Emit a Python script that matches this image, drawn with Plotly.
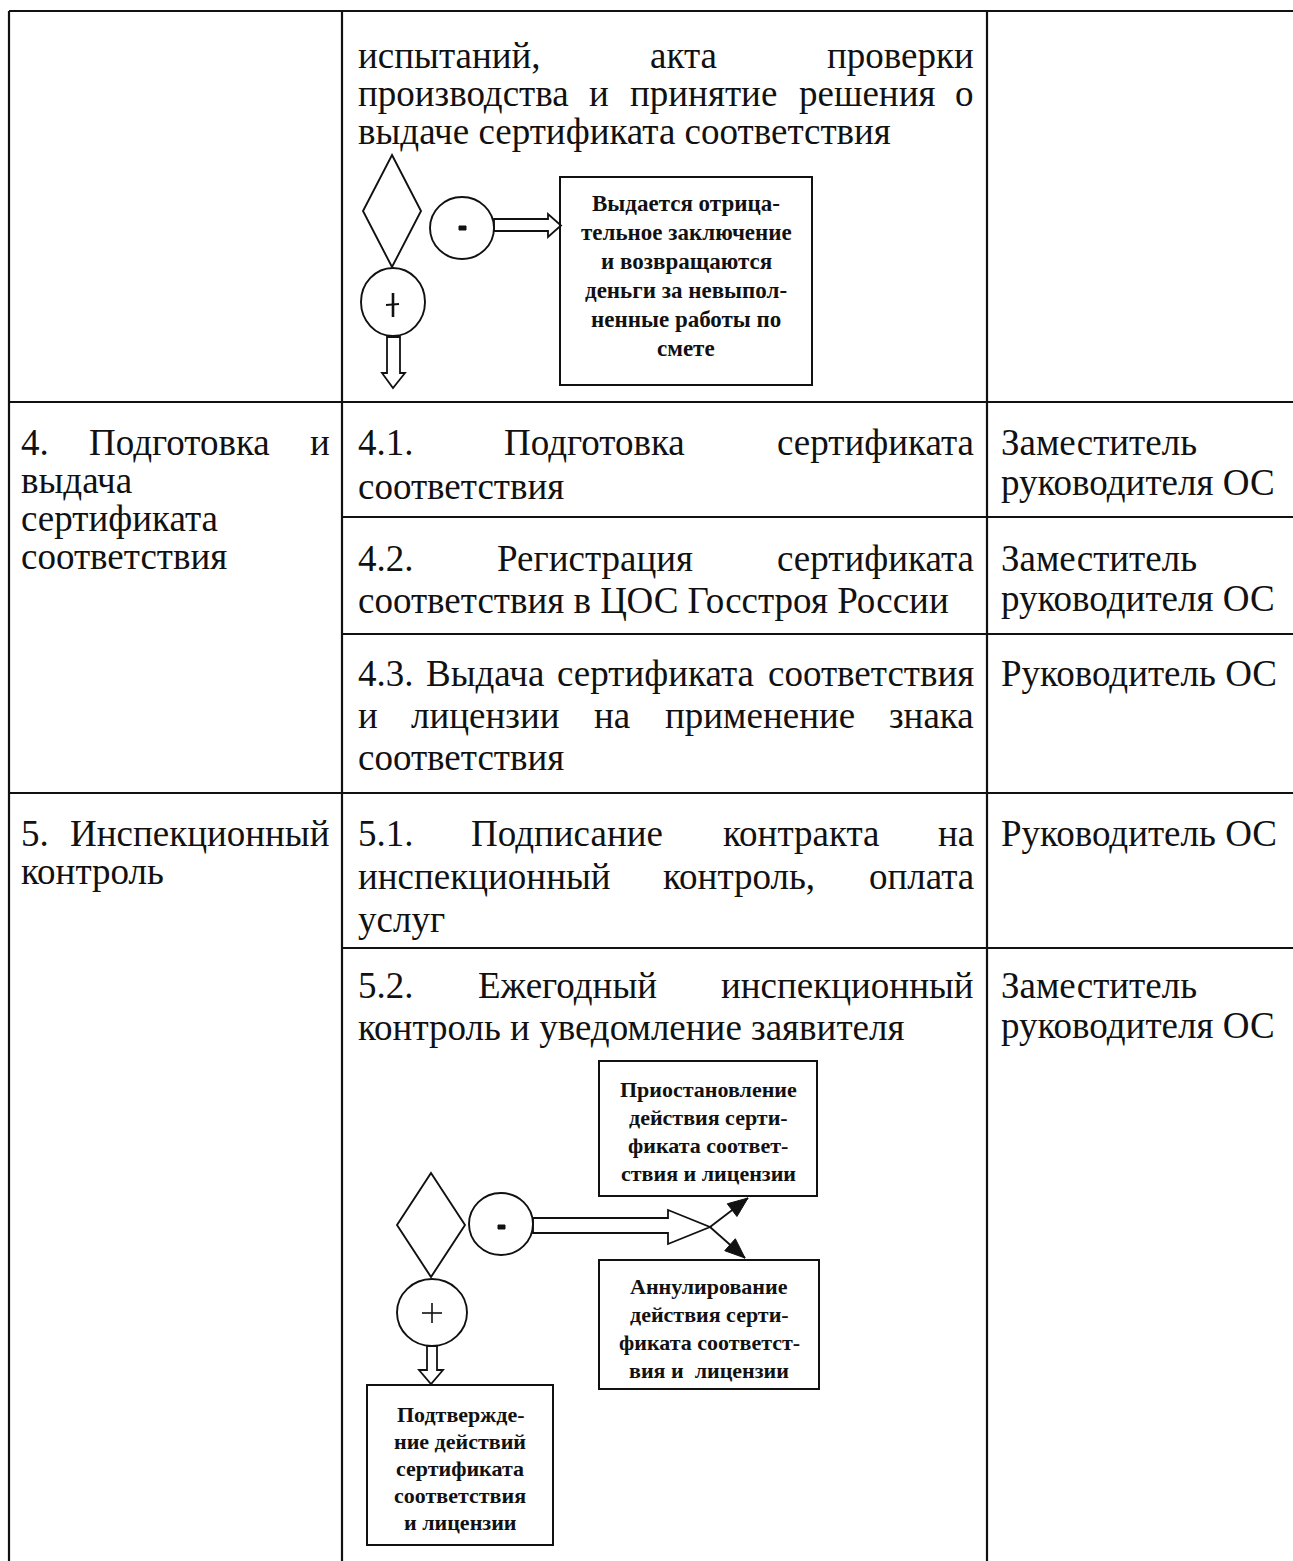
import plotly.graph_objects as go

# ---------------- table text (data) ----------------
top_proc = [["испытаний,", "акта", "проверки"],
            ["производства", "и", "принятие", "решения", "о"],
            ["выдаче сертификата соответствия"]]
stage4 = [["4.", "Подготовка", "и"], ["выдача"], ["сертификата"], ["соответствия"]]
op41 = [["4.1.", "Подготовка", "сертификата"], ["соответствия"]]
op42 = [["4.2.", "Регистрация", "сертификата"], ["соответствия в ЦОС Госстроя России"]]
op43 = [["4.3.", "Выдача", "сертификата", "соответствия"],
        ["и", "лицензии", "на", "применение", "знака"], ["соответствия"]]
stage5 = [["5.", "Инспекционный"], ["контроль"]]
op51 = [["5.1.", "Подписание", "контракта", "на"],
        ["инспекционный", "контроль,", "оплата"], ["услуг"]]
op52 = [["5.2.", "Ежегодный", "инспекционный"], ["контроль и уведомление заявителя"]]
resp_deputy = [["Заместитель"], ["руководителя ОС"]]
resp_head = [["Руководитель ОС"]]

box_negative = ["Выдается отрица-", "тельное заключение", "и возвращаются",
                "деньги за невыпол-", "ненные работы по", "смете"]
box_suspend = ["Приостановление", "действия серти-", "фиката соответ-", "ствия и лицензии"]
box_annul = ["Аннулирование", "действия серти-", "фиката соответст-", "вия и  лицензии"]
box_confirm = ["Подтвержде-", "ние действий", "сертификата", "соответствия", "и лицензии"]

# ---------------- layout constants ----------------
W, H = 1293, 1561
SERIF = "Liberation Serif"
FS = 37
INK = "#111111"

L, T, C1, C2, R, B = 9, 11, 342, 987, 1310, 1570
COLX = {1: (20, 331), 2: (357, 975), 3: (1000, 1285)}

# Times-like glyph widths (per 1000 em)
WID = dict(zip("абвгдежзийклмнопрстуфхцчшщъыьэюя",
               [444, 500, 472, 410, 499, 444, 722, 395, 535, 535, 486, 499, 633, 535, 500, 535,
                500, 444, 437, 500, 648, 500, 535, 503, 770, 770, 517, 672, 456, 429, 747, 492]))
WID.update(dict(zip("АБВГДЕЖЗИЙКЛМНОПРСТУФХЦЧШЩЪЫЬЭЮЯ",
                    [722, 574, 667, 578, 682, 611, 896, 501, 722, 722, 667, 678, 889, 722, 722, 722,
                     556, 667, 611, 708, 790, 722, 722, 650, 1009, 1009, 706, 872, 574, 660, 1028, 669])))
WID.update({c: 500 for c in "0123456789"})
WID.update({".": 250, ",": 250, " ": 250, "-": 333})


def text_w(s, size):
    return sum(WID.get(c, 500) for c in s) * size / 1000.0


annots = []
shapes = []


def add_text(s, x, y, anchor, size=FS, fam=SERIF):
    annots.append(dict(text=s, x=x, y=y, xref="x", yref="y", xanchor=anchor, yanchor="middle",
                       showarrow=False, borderpad=0,
                       font=dict(family=fam, size=size, color=INK)))


def put_cell(lines, col, y0, pitch):
    x0, x1 = COLX[col]
    for k, words in enumerate(lines):
        y = y0 + k * pitch
        if len(words) == 1:
            add_text(words[0], x0, y, "left")
            continue
        ws = [text_w(w, FS) for w in words]
        gap = (x1 - x0 - sum(ws)) / (len(words) - 1)
        x = x0
        for i, (w, wd) in enumerate(zip(words, ws)):
            if i == 0:
                add_text(w, x0, y, "left")
            elif i == len(words) - 1:
                add_text(w, x1, y, "right")
            else:
                add_text(w, x + wd / 2, y, "center")
            x += wd + gap


def line(x0, y0, x1, y1, w=2.2):
    shapes.append(dict(type="line", x0=x0, y0=y0, x1=x1, y1=y1, xref="x", yref="y",
                       line=dict(color=INK, width=w)))


def path(d, w=1.8, fill="rgba(0,0,0,0)"):
    shapes.append(dict(type="path", path=d, xref="x", yref="y", fillcolor=fill,
                       line=dict(color=INK, width=w)))


def rect(x0, y0, x1, y1, w=2.0, fill="rgba(0,0,0,0)"):
    shapes.append(dict(type="rect", x0=x0, y0=y0, x1=x1, y1=y1, xref="x", yref="y",
                       fillcolor=fill, line=dict(color=INK, width=w)))


def ellipse(x0, y0, x1, y1, w=1.9):
    shapes.append(dict(type="circle", x0=x0, y0=y0, x1=x1, y1=y1, xref="x", yref="y",
                       line=dict(color=INK, width=w)))


def diamond(cx, cy, hw, hh):
    path(f"M{cx},{cy-hh} L{cx+hw},{cy} L{cx},{cy+hh} L{cx-hw},{cy} Z", w=1.9)


def poly(pts, w=1.8, fill="rgba(0,0,0,0)", close=True):
    d = "M" + " L".join(f"{x},{y}" for x, y in pts) + (" Z" if close else "")
    path(d, w, fill)


def solid_head(xs, ys, xe, ye, length=20, half=8):
    dx, dy = xe - xs, ye - ys
    n = (dx * dx + dy * dy) ** 0.5
    ux, uy = dx / n, dy / n
    bx, by = xe - ux * length, ye - uy * length
    px, py = -uy, ux
    poly([(xe, ye), (bx + px * half, by + py * half), (bx - px * half, by - py * half)],
         w=1, fill=INK)


def box_text(lines, cx, y0, pitch, size):
    for k, s in enumerate(lines):
        add_text("<b>" + s + "</b>", cx, y0 + k * pitch, "center", size=size, fam=SERIF)


# ---------------- table grid ----------------
line(L, T, R, T)
line(L, T, L, B)
line(C1, T, C1, B)
line(C2, T, C2, B)
for yy in (402, 793):
    line(L, yy, R, yy)
for yy in (517, 634, 948):
    line(C1, yy, R, yy)

# ---------------- table text ----------------
put_cell(top_proc, 2, 55, 38)
put_cell(stage4, 1, 442, 38)
put_cell(op41, 2, 442, 44)
put_cell(resp_deputy, 3, 442, 40)
put_cell(op42, 2, 558, 42)
put_cell(resp_deputy, 3, 558, 40)
put_cell(op43, 2, 673, 42)
put_cell(resp_head, 3, 673, 40)
put_cell(stage5, 1, 833, 38)
put_cell(op51, 2, 833, 43)
put_cell(resp_head, 3, 833, 40)
put_cell(op52, 2, 985, 42)
put_cell(resp_deputy, 3, 985, 40)

# ---------------- flowchart 1 ----------------
diamond(392, 211, 29, 56)
ellipse(430, 197, 494, 259)
rect(459, 226, 466, 230, w=1, fill=INK)
poly([(494, 219), (548, 219), (548, 214), (561, 225.5), (548, 237), (548, 231), (494, 231)])
rect(560, 177, 812, 385)
box_text(box_negative, 686, 203, 29, 23)
ellipse(361, 268, 425, 336)
line(393, 293, 393, 317, w=2.6)
line(386, 305, 399, 304, w=2)
poly([(387, 337), (387, 373), (382, 373), (393, 388), (405, 373), (400, 373), (400, 337)])

# ---------------- flowchart 2 ----------------
diamond(431, 1225, 34, 52)
ellipse(469, 1193, 533, 1255)
rect(498, 1225, 505, 1229, w=1, fill=INK)
poly([(533, 1218), (668, 1218), (668, 1210), (710, 1227), (668, 1244), (668, 1233), (533, 1233)])
line(710, 1227, 748, 1198, w=1.8)
solid_head(710, 1227, 748, 1198)
line(710, 1227, 745, 1258, w=1.8)
solid_head(710, 1227, 745, 1258)
rect(599, 1061, 817, 1196)
box_text(box_suspend, 708, 1089, 28, 22)
rect(599, 1260, 819, 1389)
box_text(box_annul, 709, 1286, 28, 22)
ellipse(397, 1279, 467, 1346)
line(422, 1313, 442, 1313, w=1.6)
line(432, 1303, 432, 1323, w=1.6)
poly([(427, 1346), (427, 1370), (419, 1370), (431, 1384), (443, 1370), (437, 1370), (437, 1346)])
rect(367, 1385, 553, 1545)
box_text(box_confirm, 460, 1414, 27, 22)

fig = go.Figure()
fig.update_layout(
    width=W, height=H, margin=dict(l=0, r=0, t=0, b=0),
    paper_bgcolor="white", plot_bgcolor="white",
    xaxis=dict(range=[0, W], visible=False, fixedrange=True),
    yaxis=dict(range=[H, 0], visible=False, fixedrange=True),
    shapes=shapes, annotations=annots, showlegend=False,
)
fig.write_html("out.html", config={"displayModeBar": False},
               post_script="document.body.style.margin='0';")
